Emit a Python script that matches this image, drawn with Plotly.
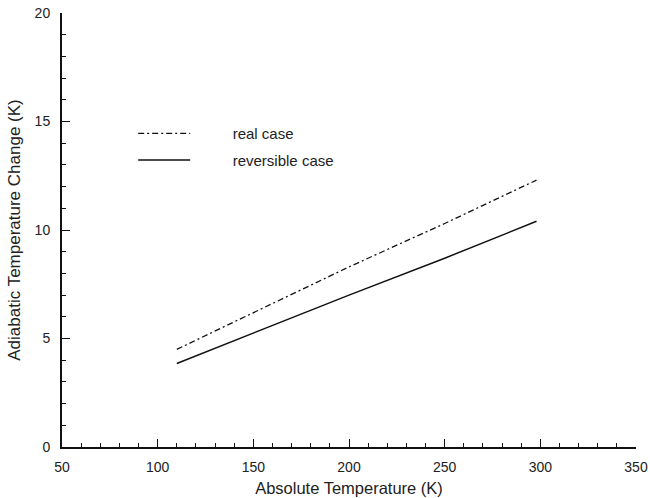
import plotly.graph_objects as go

# Data
temperature = [110, 150, 200, 250, 298]
real_case = [4.5, 6.2, 8.3, 10.3, 12.3]
reversible_case = [3.85, 5.25, 7.0, 8.7, 10.4]

x_ticks = [50, 100, 150, 200, 250, 300, 350]
y_ticks = [0, 5, 10, 15, 20]

FONT = "Liberation Sans, Arial, Helvetica, sans-serif"
TXT = "#222222"
PAD = "\u00a0" * 9

fig = go.Figure()
fig.add_trace(go.Scatter(
    x=temperature, y=real_case, mode="lines", name=PAD + "real case",
    legendgroup="real",
    line=dict(color="#111111", width=1.3, dash="6px,3px,2px,3px"),
))
fig.add_trace(go.Scatter(
    x=temperature, y=reversible_case, mode="lines", name=PAD + "reversible case",
    legendgroup="rev",
    line=dict(color="#111111", width=1.5),
))

fig.update_layout(
    width=650, height=498,
    margin=dict(l=62, r=14, t=13, b=51),
    paper_bgcolor="white", plot_bgcolor="white",
    font=dict(family=FONT, size=14, color=TXT),
    showlegend=True,
    legend=dict(
        x=0.124, y=0.76, xanchor="left", yanchor="top",
        bgcolor="rgba(0,0,0,0)", borderwidth=0,
        font=dict(size=15, color=TXT), itemwidth=52,
        tracegroupgap=4,
    ),
    xaxis=dict(
        range=[50, 350], tickvals=x_ticks, ticktext=[str(v) for v in x_ticks],
        showgrid=False, zeroline=False, automargin=False,
        ticklabeloverflow="allow",
        showline=True, linecolor="#111111", linewidth=2,
        ticks="inside", ticklen=8, tickwidth=1.2, tickcolor="#111111",
        minor=dict(dtick=10, ticks="inside", ticklen=4, tickwidth=1, tickcolor="#111111"),
        tickfont=dict(size=14, color=TXT),
        title=dict(text="Absolute Temperature (K)", font=dict(size=16.5, color=TXT), standoff=9),
        ticklabelstandoff=6,
    ),
    yaxis=dict(
        range=[0, 20], tickvals=y_ticks, ticktext=[str(v) for v in y_ticks],
        showgrid=False, zeroline=False, automargin=False,
        ticklabeloverflow="allow",
        showline=True, linecolor="#111111", linewidth=2,
        ticks="inside", ticklen=8, tickwidth=1.2, tickcolor="#111111",
        minor=dict(dtick=1, ticks="inside", ticklen=4, tickwidth=1, tickcolor="#111111"),
        tickfont=dict(size=14, color=TXT),
        title=dict(text="Adiabatic Temperature Change (K)", font=dict(size=17, color=TXT), standoff=10),
        ticklabelstandoff=7,
    ),
)

# remove the page's default 8px body margin so the figure fills the window
fig.write_html(
    "out.html",
    config={"displayModeBar": False},
    post_script="document.body.style.margin='0';",
)
